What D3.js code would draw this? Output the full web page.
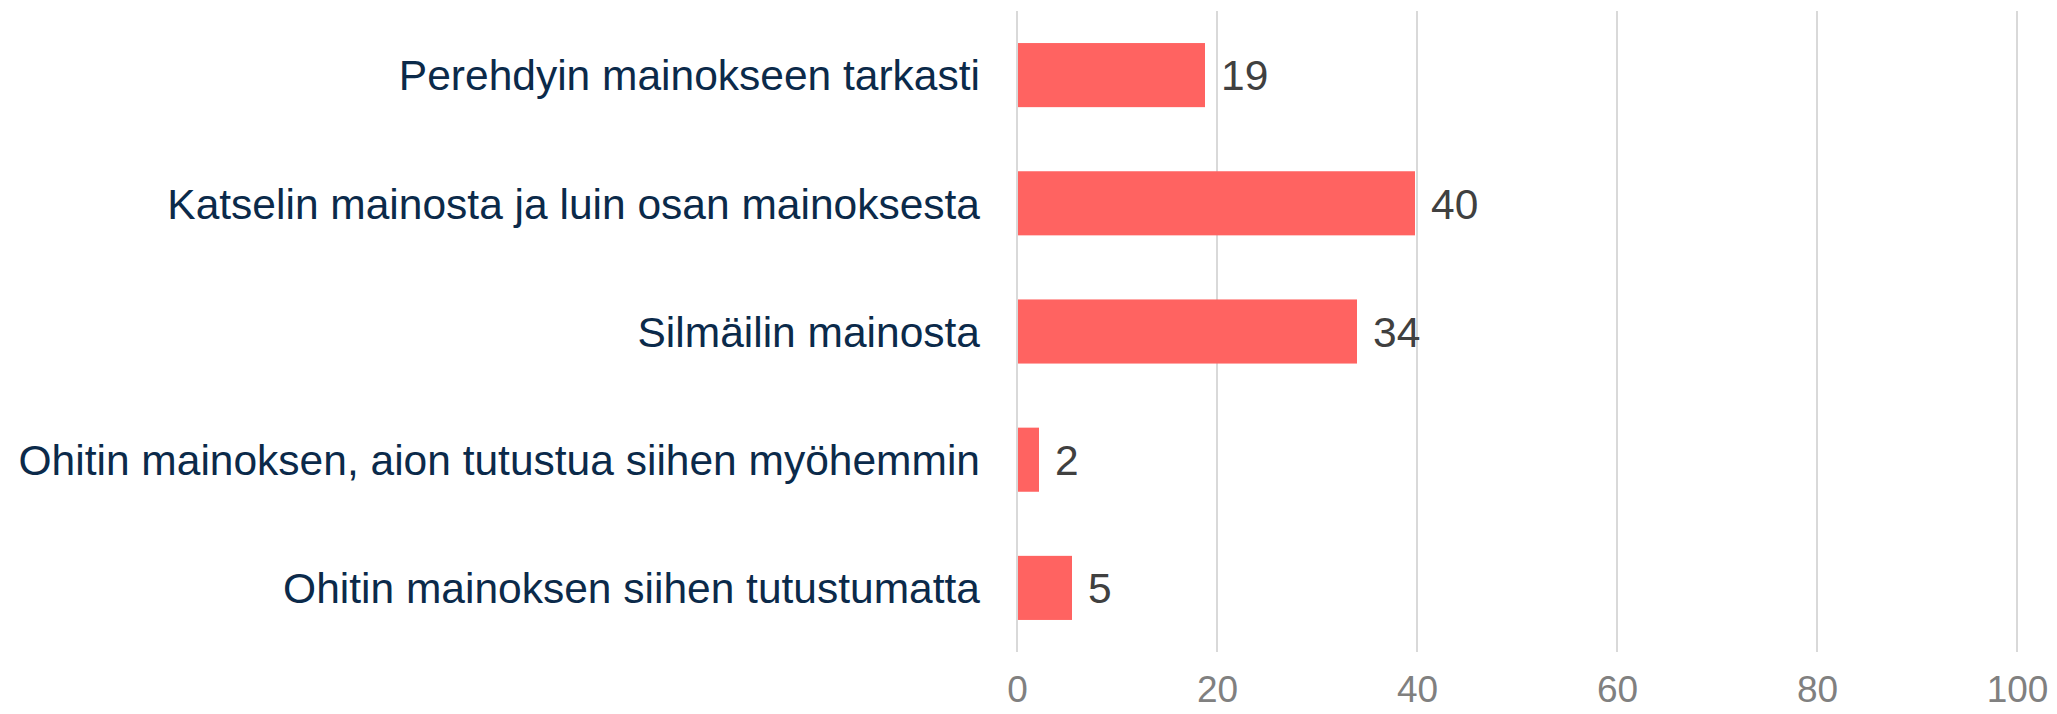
<!DOCTYPE html>
<html>
<head>
<meta charset="utf-8">
<script src="https://cdn.jsdelivr.net/npm/d3@7"></script>
<style>
  body { margin: 0; background: #fff; }
  svg { display: block; font-family: "Liberation Sans", Arial, sans-serif; }
</style>
</head>
<body>
<div id="chart"></div>
<script>
const categories = [
  "Perehdyin mainokseen tarkasti",
  "Katselin mainosta ja luin osan mainoksesta",
  "Silmäilin mainosta",
  "Ohitin mainoksen, aion tutustua siihen myöhemmin",
  "Ohitin mainoksen siihen tutustumatta"
];
const values = [18.8, 39.8, 34.0, 2.2, 5.5];
const valueLabels = ["19", "40", "34", "2", "5"];
const ticks = [0, 20, 40, 60, 80, 100];

const width = 2057;
const height = 714;
const margin = { top: 11, right: 40, bottom: 62, left: 1017 };

const svg = d3.select("#chart").append("svg")
  .attr("width", width)
  .attr("height", height);

const x = d3.scaleLinear()
  .domain([0, 100])
  .range([margin.left, margin.left + 1000]);

const y = d3.scaleBand()
  .domain(categories)
  .range([margin.top, height - margin.bottom])
  .paddingInner(0.5)
  .paddingOuter(0.25);

// gridlines
svg.append("g")
  .selectAll("line")
  .data(ticks)
  .enter()
  .append("line")
  .attr("x1", d => x(d))
  .attr("x2", d => x(d))
  .attr("y1", margin.top)
  .attr("y2", height - margin.bottom)
  .attr("stroke", "#d9d9d9")
  .attr("stroke-width", 2);

// bars
svg.append("g")
  .selectAll("rect")
  .data(values)
  .enter()
  .append("rect")
  .attr("x", x(0) + 1)
  .attr("y", (d, i) => y(categories[i]))
  .attr("width", d => x(d) - x(0) - 1)
  .attr("height", y.bandwidth())
  .attr("fill", "#ff6361");

// value labels
svg.append("g")
  .selectAll("text")
  .data(values)
  .enter()
  .append("text")
  .attr("x", d => x(d) + 16)
  .attr("y", (d, i) => y(categories[i]) + y.bandwidth() / 2)
  .attr("dy", "0.36em")
  .attr("font-size", 42.5)
  .attr("fill", "#404040")
  .text((d, i) => valueLabels[i]);

// category labels
const yAxis = d3.axisLeft(y).tickSize(0).tickPadding(37);
const ya = svg.append("g")
  .attr("transform", `translate(${x(0)},0)`)
  .call(yAxis);
ya.select(".domain").remove();
ya.selectAll("text")
  .attr("font-size", 42.5)
  .attr("font-family", "Liberation Sans, Arial, sans-serif")
  .attr("fill", "#0b2a4a")
  .attr("dy", "0.36em");

// x axis
const xAxis = d3.axisBottom(x).tickValues(ticks).tickSize(0).tickPadding(24);
const xa = svg.append("g")
  .attr("transform", `translate(0,${height - margin.bottom})`)
  .call(xAxis);
xa.select(".domain").remove();
xa.selectAll("text")
  .attr("font-size", 37)
  .attr("font-family", "Liberation Sans, Arial, sans-serif")
  .attr("fill", "#808080");
</script>
</body>
</html>
